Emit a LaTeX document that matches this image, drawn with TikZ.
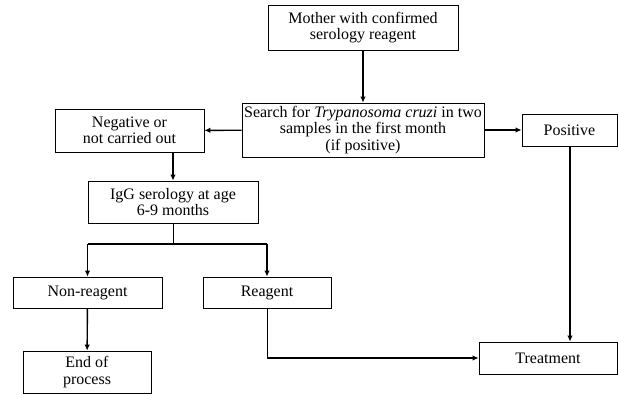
\documentclass[tikz,border=0pt]{standalone}
\usepackage{fontspec}
\setmainfont{Liberation Serif}
\usetikzlibrary{shapes,arrows.meta}

\begin{document}
\begin{tikzpicture}[x=1pt, y=-1pt,
  box/.style={rectangle, draw=black, line width=0.8pt, align=center, inner sep=0pt,
    font=\fontsize{16}{16.5}\selectfont},
  arr/.style={-{Latex[length=6pt,width=5.5pt]}, line width=1.4pt}]
\useasboundingbox (0,0) rectangle (619,394);
\node[box, minimum width=190pt, minimum height=45pt] (1) at (363,27.5) {Mother with confirmed\\serology reagent};
\node[box, minimum width=242pt, minimum height=54pt] (2) at (363,130) {Search for \textit{Trypanosoma cruzi} in two\\samples in the first month\\(if positive)};
\node[box, minimum width=149pt, minimum height=43pt] (3) at (129.5,130.5) {Negative or\\not carried out};
\node[box, minimum width=95pt, minimum height=32pt] (4) at (569.5,130) {Positive};
\node[box, minimum width=170pt, minimum height=42pt] (5) at (173,202) {IgG serology at age\\6-9 months};
\node[box, minimum width=149pt, minimum height=31pt] (6) at (87.5,292.5) {Non-reagent};
\node[box, minimum width=128pt, minimum height=31pt] (7) at (267,292.5) {Reagent};
\node[box, minimum width=128pt, minimum height=42pt] (8) at (87,372) {End of\\process};
\node[box, minimum width=138pt, minimum height=32pt] (9) at (548,358) {Treatment};
\coordinate (fork) at (173,244);

\draw[arr] (1) -- (2);
\draw[arr] (2) -- (3);
\draw[arr] (2) -- (4);
\draw[arr] (3.south -| 5.north) -- (5.north);
\draw[line width=0.8pt] (5.south) -- (fork);
\draw[line width=1.4pt] (fork -| 6.north) -- (fork -| 7.north);
\draw[arr] (fork -| 6.north) -- (6.north);
\draw[arr] (fork -| 7.north) -- (7.north);
\draw[arr] (6) -- (8);
\draw[line width=0.8pt] (7.south) -- (7.south |- 9.west);
\draw[arr] (7.south |- 9.west) -- (9.west);
\draw[arr] (4.south -| 570,0) -- (9.north -| 570,0);
\end{tikzpicture}
\end{document}
